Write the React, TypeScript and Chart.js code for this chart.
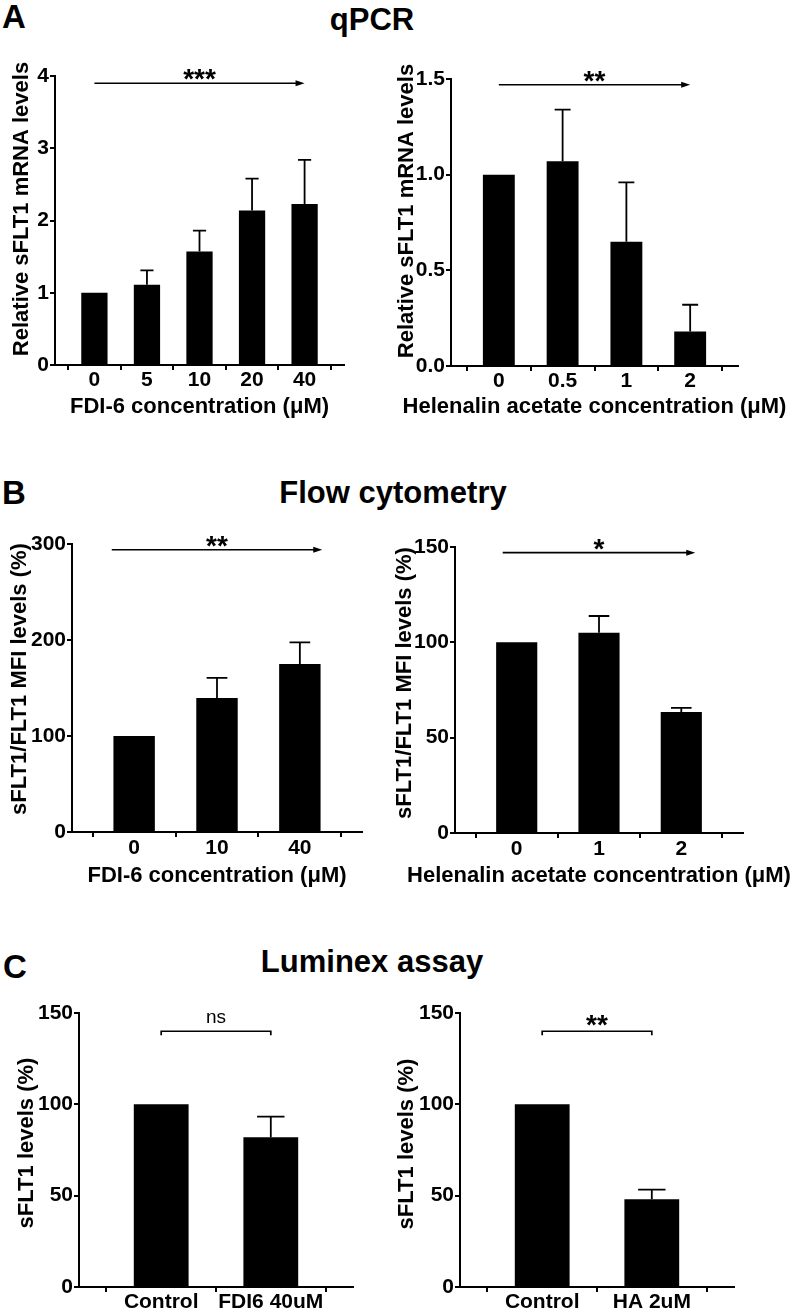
import React, { useEffect, useRef } from 'react';
import { Chart, registerables } from 'chart.js';

Chart.register(...registerables);

const FONT = '"Liberation Sans", Arial, Helvetica, sans-serif';

// ---------- Data ----------
// A: qPCR
const qpcrFdiLabels = ['0', '5', '10', '20', '40'];
const qpcrFdiMean = [1.0, 1.11, 1.57, 2.14, 2.23];
const qpcrFdiErr = [0, 0.2, 0.29, 0.44, 0.61];
const qpcrFdiTicks = [0, 1, 2, 3, 4];
const qpcrFdiSig = { kind: 'arrow', from: 0, to: 4, at: 3.9, text: '***', bold: true };

const qpcrHaLabels = ['0', '0.5', '1', '2'];
const qpcrHaMean = [1.0, 1.07, 0.65, 0.18];
const qpcrHaErr = [0, 0.27, 0.31, 0.14];
const qpcrHaTicks = [0, 0.5, 1.0, 1.5];
const qpcrHaSig = { kind: 'arrow', from: 0, to: 3, at: 1.47, text: '**', bold: true };

// B: Flow cytometry
const flowFdiLabels = ['0', '10', '40'];
const flowFdiMean = [100, 139.5, 175];
const flowFdiErr = [0, 21, 22.5];
const flowFdiTicks = [0, 100, 200, 300];
const flowFdiSig = { kind: 'arrow', from: -0.27, to: 2.27, at: 294, text: '**', bold: true };

const flowHaLabels = ['0', '1', '2'];
const flowHaMean = [100, 105, 63.5];
const flowHaErr = [0, 8.8, 2.1];
const flowHaTicks = [0, 50, 100, 150];
const flowHaSig = { kind: 'arrow', from: -0.17, to: 2.17, at: 147, text: '*', bold: true };

// C: Luminex assay
const lumFdiLabels = ['Control', 'FDI6 40uM'];
const lumFdiMean = [100, 82];
const lumFdiErr = [0, 11.3];
const lumFdiTicks = [0, 50, 100, 150];
const lumFdiSig = { kind: 'bracket', from: 0, to: 1, at: 140, text: 'ns', bold: false };

const lumHaLabels = ['Control', 'HA 2uM'];
const lumHaMean = [100, 48];
const lumHaErr = [0, 5.3];
const lumHaTicks = [0, 50, 100, 150];
const lumHaSig = { kind: 'bracket', from: 0, to: 1, at: 140, text: '**', bold: true };

// ---------- Panels (data refs + layout) ----------
const panels = [
  {
    labels: qpcrFdiLabels, mean: qpcrFdiMean, err: qpcrFdiErr, ticks: qpcrFdiTicks, decimals: 0, sig: qpcrFdiSig,
    yTitle: 'Relative sFLT1 mRNA levels', xTitle: 'FDI-6 concentration (μM)',
    box: { left: 0, top: 40, width: 372, height: 392, axisX: 55, yTop: 76, yBottom: 365, xEnd: 344, yTitleX: 22, yTitleY: 209, xTitleY: 407, tickPad: 0, sigDy: 5 },
  },
  {
    labels: qpcrHaLabels, mean: qpcrHaMean, err: qpcrHaErr, ticks: qpcrHaTicks, decimals: 1, sig: qpcrHaSig,
    yTitle: 'Relative sFLT1 mRNA levels', xTitle: 'Helenalin acetate concentration (μM)',
    box: { left: 392, top: 40, width: 408, height: 392, axisX: 451, yTop: 79, yBottom: 366, xEnd: 738, yTitleX: 407, yTitleY: 211, xTitleY: 407, tickPad: 0, sigDy: 5 },
  },
  {
    labels: flowFdiLabels, mean: flowFdiMean, err: flowFdiErr, ticks: flowFdiTicks, decimals: 0, sig: flowFdiSig,
    yTitle: 'sFLT1/FLT1 MFI levels (%)', xTitle: 'FDI-6 concentration (μM)',
    box: { left: 0, top: 515, width: 385, height: 390, axisX: 72, yTop: 544, yBottom: 832, xEnd: 362, yTitleX: 20, yTitleY: 679, xTitleY: 876, tickPad: 1, sigDy: 5 },
  },
  {
    labels: flowHaLabels, mean: flowHaMean, err: flowHaErr, ticks: flowHaTicks, decimals: 0, sig: flowHaSig,
    yTitle: 'sFLT1/FLT1 MFI levels (%)', xTitle: 'Helenalin acetate concentration (μM)',
    box: { left: 392, top: 515, width: 408, height: 390, axisX: 455, yTop: 547, yBottom: 833, xEnd: 743, yTitleX: 405, yTitleY: 683, xTitleY: 876, tickPad: 1, sigDy: 5 },
  },
  {
    labels: lumFdiLabels, mean: lumFdiMean, err: lumFdiErr, ticks: lumFdiTicks, decimals: 0, sig: lumFdiSig,
    yTitle: 'sFLT1 levels (%)', xTitle: '',
    box: { left: 0, top: 990, width: 385, height: 326, axisX: 79, yTop: 1013, yBottom: 1287, xEnd: 353, yTitleX: 27, yTitleY: 1143, xTitleY: 0, tickPad: 0, sigDy: -8 },
  },
  {
    labels: lumHaLabels, mean: lumHaMean, err: lumHaErr, ticks: lumHaTicks, decimals: 0, sig: lumHaSig,
    yTitle: 'sFLT1 levels (%)', xTitle: '',
    box: { left: 392, top: 990, width: 408, height: 326, axisX: 460, yTop: 1013, yBottom: 1287, xEnd: 734, yTitleX: 407, yTitleY: 1144, xTitleY: 0, tickPad: 0, sigDy: 3 },
  },
];

const errorBarPlugin = {
  id: 'errorBars',
  afterDatasetsDraw(chart: any) {
    const ctx = chart.ctx;
    const ys = chart.scales.y;
    chart.data.datasets.forEach((ds: any, di: number) => {
      const meta = chart.getDatasetMeta(di);
      meta.data.forEach((bar: any, i: number) => {
        const e = ds.errorPlus ? ds.errorPlus[i] : 0;
        if (!e) return;
        const v = ds.data[i].y;
        const yTop = ys.getPixelForValue(v + e);
        const half = bar.width / 4;
        ctx.save();
        ctx.strokeStyle = '#000';
        ctx.lineWidth = 1.8;
        ctx.beginPath();
        ctx.moveTo(bar.x, bar.y);
        ctx.lineTo(bar.x, yTop);
        ctx.moveTo(bar.x - half, yTop);
        ctx.lineTo(bar.x + half, yTop);
        ctx.stroke();
        ctx.restore();
      });
    });
  },
};

function overlayPlugin(p: any) {
  return {
    id: 'overlay',
    afterDraw(chart: any) {
      const ctx = chart.ctx;
      const xs = chart.scales.x;
      const ys = chart.scales.y;
      const ca = chart.chartArea;
      const b = p.box;
      ctx.save();
      ctx.fillStyle = '#000';
      ctx.strokeStyle = '#000';
      ctx.textAlign = 'center';
      ctx.textBaseline = 'middle';
      ctx.font = `bold 22px ${FONT}`;
      // y title
      ctx.save();
      ctx.translate(b.yTitleX - b.left, b.yTitleY - b.top);
      ctx.rotate(-Math.PI / 2);
      ctx.fillText(p.yTitle, 0, 0);
      ctx.restore();
      // x title
      if (p.xTitle) {
        ctx.fillText(p.xTitle, (ca.left + ca.right) / 2, b.xTitleY - b.top);
      }
      // significance
      const s = p.sig;
      const x0 = xs.getPixelForValue(s.from);
      const x1 = xs.getPixelForValue(s.to);
      const y = ys.getPixelForValue(s.at);
      ctx.lineWidth = 1.7;
      if (s.kind === 'arrow') {
        ctx.beginPath();
        ctx.moveTo(x0, y);
        ctx.lineTo(x1 - 6, y);
        ctx.stroke();
        ctx.beginPath();
        ctx.moveTo(x1, y);
        ctx.lineTo(x1 - 9, y - 3);
        ctx.lineTo(x1 - 9, y + 3);
        ctx.closePath();
        ctx.fill();
      } else {
        ctx.beginPath();
        ctx.moveTo(x0, y + 4);
        ctx.lineTo(x0, y);
        ctx.lineTo(x1, y);
        ctx.lineTo(x1, y + 4);
        ctx.stroke();
      }
      ctx.font = s.bold ? `bold 28px ${FONT}` : `19px ${FONT}`;
      ctx.textBaseline = 'alphabetic';
      ctx.fillText(s.text, (x0 + x1) / 2, y + b.sigDy);
      ctx.restore();
    },
  };
}

function BarPanel({ p }: { p: any }) {
  const ref = useRef<HTMLCanvasElement>(null);
  const b = p.box;
  useEffect(() => {
    const n = p.labels.length;
    const tickFont = { family: FONT, size: 21, weight: 'bold', lineHeight: 1 };
    const chart = new Chart(ref.current as HTMLCanvasElement, {
      type: 'bar',
      data: {
        datasets: [
          {
            data: p.mean.map((y: number, i: number) => ({ x: i, y })),
            backgroundColor: '#000',
            borderWidth: 0,
            barPercentage: 0.5,
            categoryPercentage: 1,
            errorPlus: p.err,
          } as any,
        ],
      },
      options: {
        animation: false,
        responsive: false,
        events: [],
        layout: { padding: { left: 0, top: b.yTop - b.top, right: b.left + b.width - b.xEnd, bottom: 0 } },
        plugins: { legend: { display: false }, tooltip: { enabled: false } },
        scales: {
          x: {
            type: 'linear',
            min: -0.75,
            max: n - 1 + 0.75,
            offset: false,
            afterBuildTicks: (s: any) => {
              s.ticks = p.labels.map((_: string, i: number) => ({ value: i }));
            },
            afterFit: (s: any) => {
              s.height = b.top + b.height - b.yBottom;
            },
            ticks: {
              autoSkip: false,
              maxRotation: 0,
              minRotation: 0,
              color: '#000',
              font: tickFont,
              padding: b.tickPad,
              callback: (v: any) => (p.labels[v] !== undefined ? p.labels[v] : ''),
            },
            grid: { display: true, drawOnChartArea: false, drawTicks: true, tickLength: 5, color: '#000', lineWidth: 2 },
            border: { display: true, color: '#000', width: 2 },
          },
          y: {
            type: 'linear',
            min: p.ticks[0],
            max: p.ticks[p.ticks.length - 1],
            afterBuildTicks: (s: any) => {
              s.ticks = p.ticks.map((v: number) => ({ value: v }));
            },
            afterFit: (s: any) => {
              s.width = b.axisX - b.left;
            },
            ticks: {
              color: '#000',
              font: tickFont,
              padding: 1,
              callback: (v: any) => Number(v).toFixed(p.decimals),
            },
            grid: { display: true, drawOnChartArea: false, drawTicks: true, tickLength: 5, color: '#000', lineWidth: 2 },
            border: { display: true, color: '#000', width: 2 },
          },
        },
      } as any,
      plugins: [errorBarPlugin, overlayPlugin(p)],
    });
    return () => chart.destroy();
  }, []);
  return (
    <canvas
      ref={ref}
      width={b.width}
      height={b.height}
      style={{ position: 'absolute', left: b.left, top: b.top, width: b.width, height: b.height }}
    />
  );
}

function Label({ text, size, baseline, left, center }: { text: string; size: number; baseline: number; left?: number; center?: number }) {
  const style: any = {
    position: 'absolute',
    top: baseline - 0.8465 * size,
    fontFamily: FONT,
    fontWeight: 'bold',
    fontSize: size,
    lineHeight: `${size}px`,
    whiteSpace: 'nowrap',
    color: '#000',
  };
  if (center !== undefined) {
    style.left = center;
    style.transform = 'translateX(-50%)';
  } else {
    style.left = left;
  }
  return <div style={style}>{text}</div>;
}

export default function App() {
  return (
    <div style={{ position: 'absolute', left: 0, top: 0, width: 800, height: 1316, background: '#fff', overflow: 'hidden' }}>
      {panels.map((p, i) => (
        <BarPanel key={i} p={p} />
      ))}
      <Label text="A" size={33} baseline={28} left={2} />
      <Label text="B" size={33} baseline={504} left={2} />
      <Label text="C" size={33} baseline={978} left={3} />
      <Label text="qPCR" size={31} baseline={30} center={372} />
      <Label text="Flow cytometry" size={31} baseline={503} center={393} />
      <Label text="Luminex assay" size={31} baseline={972} center={372} />
    </div>
  );
}
